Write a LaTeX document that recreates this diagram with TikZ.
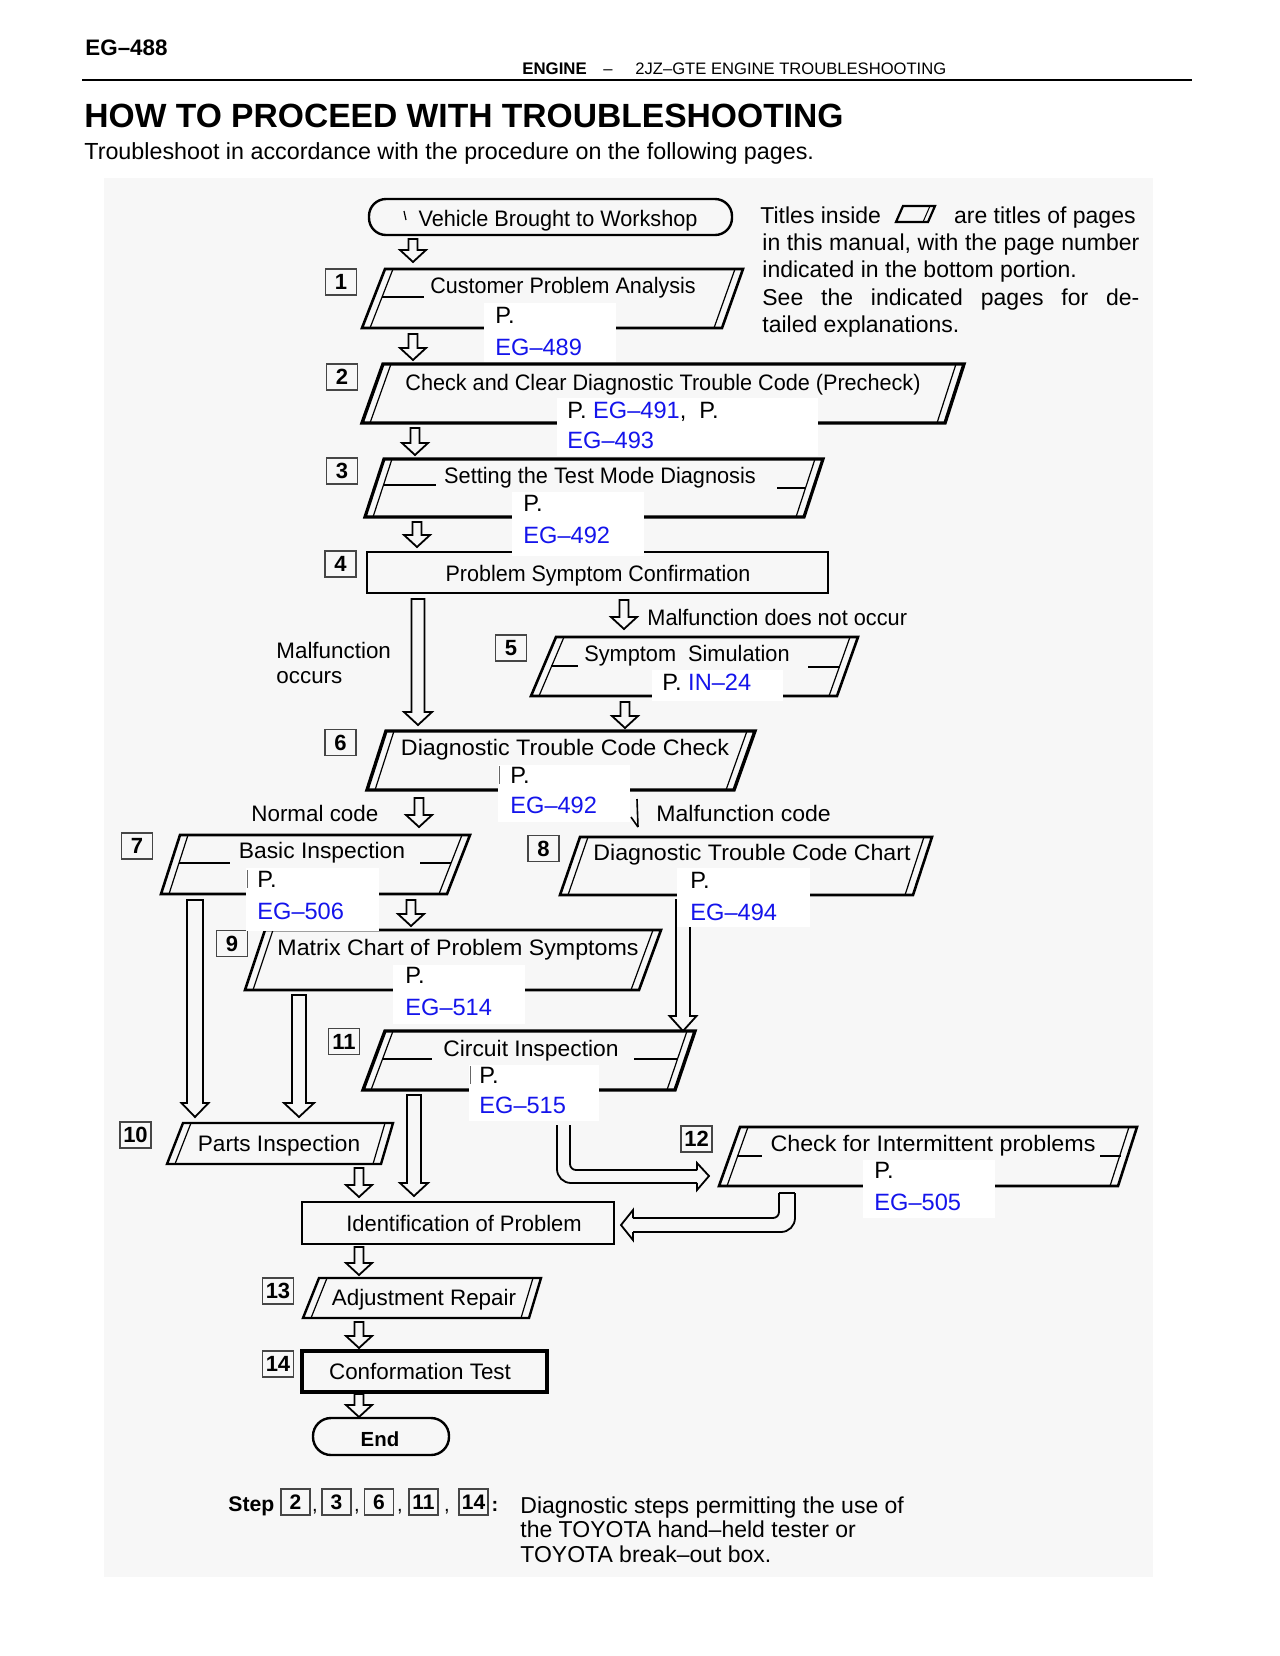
\documentclass[tikz,border=0pt]{standalone}
\usepackage{fontspec}
\setmainfont{Liberation Sans}
\usepackage{graphicx}
\definecolor{refblue}{RGB}{20,20,235}
\definecolor{lblgray}{RGB}{70,70,70}
\newcommand\fs[1]{\fontsize{#1}{#1}\selectfont}
\newcommand\sx[2]{\scalebox{#1}[1]{#2}}
\tikzset{
  txt/.style={inner sep=0pt, font=\fs{11.2}},
  note/.style={inner sep=0pt, font=\fs{11.5}},
  pref/.style={inner sep=0pt, font=\fs{11.8}},
  ref/.style={inner sep=0pt, font=\fs{11.8}, text=refblue},
  lbl/.style={draw=lblgray, line width=0.9pt, minimum width=15.5pt, minimum height=13pt, inner sep=0pt, font=\bfseries\fs{11}},
  slbl/.style={draw=lblgray, line width=0.8pt, minimum width=14.5pt, minimum height=13pt, inner sep=0pt, font=\bfseries\fs{10.5}},
  arrline/.style={line width=0.9pt, line join=miter},
}
% small hollow down arrow: x, ytop, ytip
\newcommand\harr[3]{%
  \pgfmathsetmacro\hy{#3-12}%
  \draw[arrline] (#1-4.5,#2) -- (#1-4.5,\hy) -- (#1-13,\hy) -- (#1,#3) -- (#1+13,\hy) -- (#1+4.5,\hy) -- (#1+4.5,#2) -- cycle;}
% long hollow arrow: x, ytop, yhead, ytip, stem half, head half
\newcommand\larr[6]{%
  \draw[arrline] (#1-#5,#2) -- (#1-#5,#3) -- (#1-#6,#3) -- (#1,#4) -- (#1+#6,#3) -- (#1+#5,#3) -- (#1+#5,#2) -- cycle;}
% parallelogram with doubled slanted edges: TLx TRx BRx BLx ytop ybot lw
\newcommand\pgm[7]{%
  \draw[line width=#7, line join=miter] (#1,#5) -- (#2,#5) -- (#3,#6) -- (#4,#6) -- cycle;
  \draw[line width=0.6pt] (#1+8,#5) -- (#4+8,#6);
  \draw[line width=0.6pt] (#2-8,#5) -- (#3-8,#6);}
\newcommand\stub[3]{\draw[line width=0.9pt] (#1,#3) -- (#2,#3);}
\newcommand\wbox[4]{\fill[white] (#1,#3) rectangle (#2,#4);}
\begin{document}
\begin{tikzpicture}[x=0.5pt,y=-0.5pt]
\useasboundingbox (0,0) rectangle (1280,1656);
\fill[white] (0,0) rectangle (1280,1656);
\fill[black!3] (104,178) rectangle (1153,1577);

% header
\node[anchor=base west, inner sep=0pt, font=\bfseries\fs{11.2}] (pageno) at (85,55) {EG–488};
\node[anchor=base west, inner sep=0pt, font=\bfseries\fs{8.4}] (hdA) at (522,74) {ENGINE};
\node[anchor=base west, inner sep=0pt, font=\fs{8.3}] (hdB) at (603,74) {–};
\node[anchor=base west, inner sep=0pt, font=\fs{8.3}] (hdC) at (635,74) {2JZ–GTE ENGINE TROUBLESHOOTING};
\draw[line width=1.3pt] (82,80) -- (1192,80);
\node[anchor=base west, inner sep=0pt, font=\bfseries\fs{16.8}] (title) at (84,127) {HOW TO PROCEED WITH TROUBLESHOOTING};
\node[anchor=base west, inner sep=0pt, font=\fs{11.65}] (sub) at (84,159) {Troubleshoot in accordance with the procedure on the following pages.};

% note on right
\node[note, anchor=base west] (n1a) at (760,223) {Titles inside};
\draw[line width=1.1pt] (903,206) -- (935,206) -- (928,222) -- (896,222) -- cycle;
\draw[line width=0.5pt] (930,206) -- (923,222);
\node[note, anchor=base east] (n1b) at (1136,223) {are titles of pages};
\node[note, anchor=base west] (n2) at (762,250) {\makebox[188.5pt][s]{in this manual, with the page number}};
\node[note, anchor=base west] (n3) at (762,277) {indicated in the bottom portion.};
\node[note, anchor=base west] (n4) at (762,305) {\makebox[188.5pt][s]{See the indicated pages for de-}};
\node[note, anchor=base west] (n5) at (762,332) {tailed explanations.};

% start
\draw[line width=1.2pt, rounded corners=8.5pt] (369,199) rectangle (732,235);
\draw[line width=0.6pt] (404,211) -- (406,220);
\node[txt, anchor=base] (tstart) at (558,226) {\sx{0.967}{Vehicle Brought to Workshop}};
\harr{413}{239}{262}

% 1
\node[lbl] (l1) at (341,282) {1};
\pgm{385}{743}{722}{362}{269}{328}{1.3pt}
\stub{382}{424}{297}
\node[txt, anchor=base] (t1) at (563,293) {\sx{0.96}{Customer Problem Analysis}};
\harr{413}{334}{360}

% 2
\node[lbl] (l2) at (342,377) {2};
\pgm{383}{964}{945}{362}{364}{423}{1.7pt}
\node[txt, anchor=base] (t2) at (663,390) {\sx{0.966}{Check and Clear Diagnostic Trouble Code (Precheck)}};
\harr{415}{428}{455}

% 3
\node[lbl] (l3) at (342,471) {3};
\pgm{384}{823}{804}{365}{459}{517}{1.6pt}
\stub{383}{436}{485}
\stub{777}{806}{488}
\node[txt, anchor=base] (t3) at (600,483) {\sx{0.97}{Setting the Test Mode Diagnosis}};
\harr{417}{522}{547}

% 4
\node[lbl] (l4) at (340.5,564) {4};
\draw[line width=1.1pt] (367,552) rectangle (828,593);
\node[txt, anchor=base] (t4) at (598,581) {\sx{0.96}{Problem Symptom Confirmation}};
\larr{418}{599}{712}{725}{6.5}{14}
\node[txt, anchor=base west] (mo1) at (276,658) {Malfunction};
\node[txt, anchor=base west] (mo2) at (276,683) {occurs};
\harr{624}{600}{629}
\node[txt, anchor=base west] (mdn) at (647,625) {\sx{0.97}{Malfunction does not occur}};

% 5
\node[lbl] (l5) at (511,648) {5};
\pgm{556}{858}{837}{531}{637}{696}{1.3pt}
\stub{551}{578}{666}
\stub{808}{840}{667}
\node[txt, anchor=base] (t5) at (687,661) {\sx{0.97}{Symptom\ \ Simulation}};
\harr{625}{702}{728}

% 6
\node[lbl] (l6) at (340.5,742.5) {6};
\pgm{386}{755}{734}{367}{731}{790}{1.7pt}
\node[txt, anchor=base] (t6) at (565,755) {\sx{1.04}{Diagnostic Trouble Code Check}};
\node[txt, anchor=base west] (nc) at (251,821) {Normal code};
\harr{419}{798}{827}
\draw[line width=0.8pt] (637,799) -- (638,827);
\draw[line width=0.8pt] (631,817) -- (638,827);
\node[txt, anchor=base west] (mc) at (656,821) {\sx{1.03}{Malfunction code}};

% 7
\node[lbl] (l7) at (137,846) {7};
\pgm{180}{470}{447}{161}{835}{894}{1.3pt}
\stub{179}{230}{863}
\stub{420}{451}{863}
\node[txt, anchor=base] (t7) at (322,858) {\sx{1.02}{Basic Inspection}};
\harr{411}{900}{926}
\larr{195}{900}{1103}{1117}{8}{13.5}

% 8
\node[lbl] (l8) at (543.5,848.5) {8};
\pgm{580}{932}{913}{560}{837}{895}{1.3pt}
\node[txt, anchor=base] (t8) at (752,860) {\sx{1.034}{Diagnostic Trouble Code Chart}};
\larr{683}{900}{1016}{1031}{7}{13.5}

% 9
\node[lbl] (l9) at (232,943.5) {9};
\pgm{265}{661}{639}{245}{930}{990}{1.3pt}
\node[txt, anchor=base] (t9) at (458,955) {\sx{1.036}{Matrix Chart of Problem Symptoms}};
\larr{299}{995}{1103}{1117}{7}{15}

% 11
\node[lbl] (l11) at (344,1041.5) {11};
\pgm{385}{695}{675}{363}{1031}{1090}{1.7pt}
\stub{382}{432}{1059}
\stub{634}{678}{1059}
\node[txt, anchor=base] (t11) at (531,1056) {\sx{1.02}{Circuit Inspection}};
\larr{414}{1095}{1183}{1196}{7}{14}

% 10
\node[lbl] (l10) at (135.5,1135) {10};
\pgm{183}{393}{381}{167}{1123}{1164}{1.2pt}
\node[txt, anchor=base] (t10) at (279,1151) {\sx{1.01}{Parts Inspection}};
\harr{359}{1168}{1197}

% 12
\node[lbl] (l12) at (696.5,1139) {12};
\pgm{740}{1137}{1118}{719}{1127}{1186}{1.3pt}
\stub{737}{762}{1156}
\stub{1100}{1121}{1156}
\node[txt, anchor=base] (t12) at (933,1151) {\sx{1.04}{Check for Intermittent problems}};

% bent arrow 11 -> 12
\draw[arrline, rounded corners=7pt] (557,1125) -- (557,1183) -- (697,1183);
\draw[arrline] (697,1183) -- (697,1190) -- (709,1176) -- (697,1163) -- (697,1170);
\draw[arrline, rounded corners=3pt] (697,1170) -- (570,1170) -- (570,1125);

% bent arrow 12 -> identification
\draw[arrline, rounded corners=7pt] (795,1193) -- (795,1232) -- (633,1232);
\draw[arrline] (633,1232) -- (633,1240) -- (621,1225) -- (633,1210) -- (633,1218);
\draw[arrline, rounded corners=3pt] (633,1218) -- (779,1218) -- (779,1193);
\draw[arrline] (779,1193) -- (795,1193);

% identification
\draw[line width=1.1pt] (302,1202) rectangle (614,1244);
\node[txt, anchor=base] (tid) at (464,1231) {\sx{0.98}{Identification of Problem}};
\harr{359}{1247}{1275}

% 13
\node[lbl] (l13) at (278,1291) {13};
\pgm{319}{541}{529}{303}{1278}{1318}{1.2pt}
\node[txt, anchor=base] (t13) at (424,1305) {Adjustment Repair};
\harr{359}{1322}{1348}

% 14
\node[lbl] (l14) at (278,1364) {14};
\draw[line width=2pt] (302,1351) rectangle (547,1392);
\node[txt, anchor=base] (t14) at (420,1379) {Conformation Test};
\harr{359}{1394}{1417}

% end
\draw[line width=1.2pt, rounded corners=9pt] (313,1418) rectangle (449,1455);
\node[anchor=base, inner sep=0pt, font=\bfseries\fs{10.2}] (tend) at (380,1446) {End};

% page reference patches
\wbox{484}{616}{303}{362}
\node[pref, anchor=base west] (p1a) at (495,323) {P.};
\node[ref, anchor=base west] (p1b) at (495,355) {EG–489};

\wbox{557}{818}{398}{456}
\node[pref, anchor=base west] (p2a) at (567,418) {P. \textcolor{refblue}{EG–491},\ \ P.};
\node[ref, anchor=base west] (p2b) at (567,448) {EG–493};

\wbox{512}{644}{492}{556}
\node[pref, anchor=base west] (p3a) at (523,511) {P.};
\node[ref, anchor=base west] (p3b) at (523,543) {EG–492};

\wbox{652}{783}{670}{701}
\node[pref, anchor=base west] (p5a) at (662,690) {P. \textcolor{refblue}{IN–24}};

\wbox{498}{630}{765}{822}
\draw[line width=0.5pt, black!60] (499,766) -- (499,784);
\node[pref, anchor=base west] (p6a) at (510,783) {P.};
\node[ref, anchor=base west] (p6b) at (510,813) {EG–492};

\wbox{246}{379}{868}{931}
\draw[line width=0.5pt, black!60] (247,870) -- (247,888);
\node[pref, anchor=base west] (p7a) at (257,887) {P.};
\node[ref, anchor=base west] (p7b) at (257,919) {EG–506};

\wbox{677}{810}{868}{927}
\node[pref, anchor=base west] (p8a) at (690,888) {P.};
\node[ref, anchor=base west] (p8b) at (690,920) {EG–494};

\wbox{393}{525}{965}{1024}
\node[pref, anchor=base west] (p9a) at (405,983) {P.};
\node[ref, anchor=base west] (p9b) at (405,1015) {EG–514};

\wbox{469}{599}{1065}{1121}
\draw[line width=0.5pt, black!60] (470,1066) -- (470,1084);
\node[pref, anchor=base west] (p11a) at (479,1083) {P.};
\node[ref, anchor=base west] (p11b) at (479,1113) {EG–515};

\wbox{863}{995}{1160}{1218}
\node[pref, anchor=base west] (p12a) at (874,1178) {P.};
\node[ref, anchor=base west] (p12b) at (874,1210) {EG–505};

% step legend
\node[anchor=base west, inner sep=0pt, font=\bfseries\fs{10.6}] (step) at (228,1511) {Step};
\node[slbl] (s2) at (295.5,1502) {2};
\node[anchor=base, inner sep=0pt, font=\fs{10}] at (315,1511) {,};
\node[slbl] (s3) at (336.5,1502) {3};
\node[anchor=base, inner sep=0pt, font=\fs{10}] at (357,1511) {,};
\node[slbl] (s6) at (379,1502) {6};
\node[anchor=base, inner sep=0pt, font=\fs{10}] at (400,1511) {,};
\node[slbl] (s11) at (423.5,1502) {11};
\node[anchor=base, inner sep=0pt, font=\fs{10}] at (447,1511) {,};
\node[slbl] (s14) at (473.5,1502) {14};
\node[anchor=base, inner sep=0pt, font=\bfseries\fs{10}] at (495,1511) {:};
\node[note, anchor=base west] (d1) at (520,1513) {Diagnostic steps permitting the use of};
\node[note, anchor=base west] (d2) at (520,1537) {the TOYOTA hand–held tester or};
\node[note, anchor=base west] (d3) at (520,1562) {TOYOTA break–out box.};
\end{tikzpicture}
\end{document}
